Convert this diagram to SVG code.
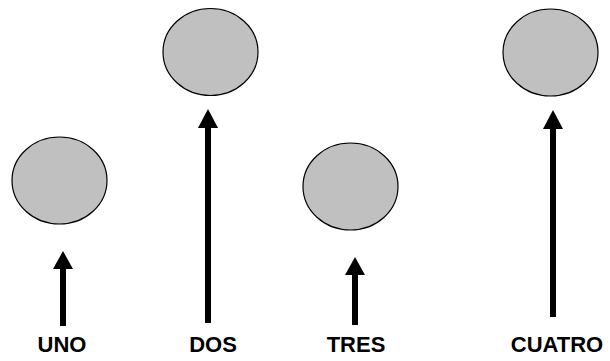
<svg xmlns="http://www.w3.org/2000/svg" width="610" height="361" viewBox="0 0 610 361">
<style>
.n{fill:#c0c0c0;stroke:#000;stroke-width:1.2}
.c{stroke:#000;stroke-width:6;fill:none}
.h{fill:#000}
.t{font-family:"Liberation Sans",Arial,sans-serif;font-weight:bold;font-size:22px;fill:#000;text-anchor:middle}
</style>
<rect width="610" height="361" fill="#fff"/>
<g id="uno">
<ellipse class="n" cx="59.5" cy="180.5" rx="47.5" ry="43.5"/>
<text class="t" x="62" y="352">UNO</text>
</g>
<g id="dos">
<ellipse class="n" cx="210.5" cy="52" rx="47.5" ry="43.5"/>
<text class="t" x="213" y="352">DOS</text>
</g>
<g id="tres">
<ellipse class="n" cx="350.5" cy="186.5" rx="47.5" ry="43.5"/>
<text class="t" x="356" y="352">TRES</text>
</g>
<g id="cuatro">
<ellipse class="n" cx="550.5" cy="52.5" rx="47.5" ry="43.5"/>
<text class="t" x="557" y="352">CUATRO</text>
</g>
<g id="connectors">
<line class="c" x1="63" y1="326" x2="63" y2="266"/>
<polygon class="h" points="63,251 53,269 73,269"/>
<line class="c" x1="208" y1="323" x2="208" y2="126"/>
<polygon class="h" points="208,109 198,128 218,128"/>
<line class="c" x1="355" y1="325" x2="355" y2="272"/>
<polygon class="h" points="355,257 345,275 365,275"/>
<line class="c" x1="553" y1="317" x2="553" y2="127"/>
<polygon class="h" points="553,110 543,129 563,129"/>
</g>
</svg>
